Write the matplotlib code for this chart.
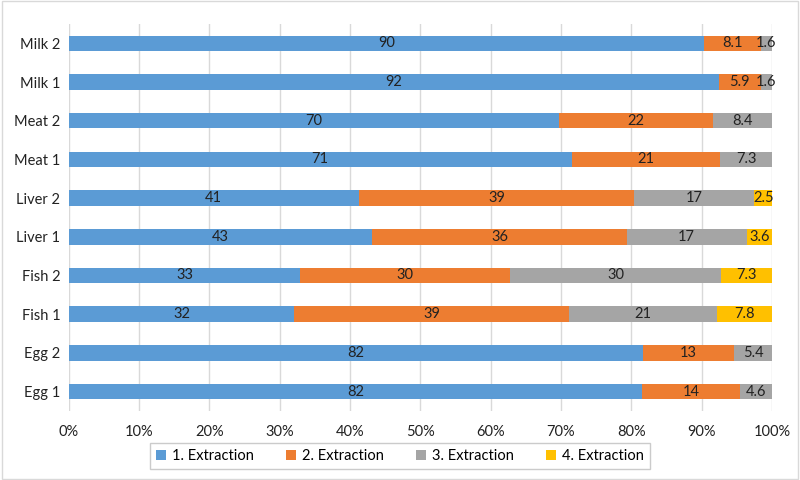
import numpy as np
import matplotlib
matplotlib.use('Agg')
import matplotlib.pyplot as plt
from matplotlib.ticker import PercentFormatter

plt.rcParams['font.family'] = ['Lato', 'DejaVu Sans']

samples = ['Egg 1', 'Egg 2', 'Fish 1', 'Fish 2', 'Liver 1', 'Liver 2',
           'Meat 1', 'Meat 2', 'Milk 1', 'Milk 2']
ext1 = [82, 82, 32, 33, 43, 41, 71, 70, 92, 90]
ext2 = [14, 13, 39, 30, 36, 39, 21, 22, 5.9, 8.1]
ext3 = [4.6, 5.4, 21, 30, 17, 17, 7.3, 8.4, 1.6, 1.6]
ext4 = [0, 0, 7.8, 7.3, 3.6, 2.5, 0, 0, 0, 0]
series = ['1. Extraction', '2. Extraction', '3. Extraction', '4. Extraction']
colors = ['#5B9BD5', '#ED7D31', '#A5A5A5', '#FFC000']

data = np.array([ext1, ext2, ext3, ext4], dtype=float)
shares = data / data.sum(axis=0) * 100

fig = plt.figure(figsize=(8, 4.8), dpi=100)
ax = fig.add_axes([0.086, 0.144, 0.879, 0.806])

y = np.arange(len(samples))
left = np.zeros(len(samples))
for i in range(4):
    ax.barh(y, shares[i], left=left, height=0.4, color=colors[i],
            label=series[i], zorder=2)
    for j in range(len(samples)):
        if data[i, j] > 0:
            ax.text(left[j] + shares[i, j] / 2, y[j], f'{data[i, j]:g}',
                    ha='center', va='center', fontsize=10.5, color='#222222',
                    zorder=3)
    left += shares[i]

ax.set_xlim(0, 100)
ax.set_ylim(-0.5, len(samples) - 0.5)
ax.set_yticks(y)
ax.set_yticklabels(samples, fontsize=10.5, color='#222222')
ax.set_xticks(np.arange(0, 101, 10))
ax.xaxis.set_major_formatter(PercentFormatter(decimals=0))
ax.tick_params(axis='x', labelsize=10.5, colors='#222222', length=0, pad=10)
ax.tick_params(axis='y', length=0, pad=6)
ax.grid(axis='x', color='#D9D9D9', linewidth=1, zorder=0)
for s in ax.spines.values():
    s.set_visible(False)

leg = fig.legend(loc='lower center', bbox_to_anchor=(0.5, 0.008), ncol=4,
                 frameon=True, fancybox=False, edgecolor='#BFBFBF',
                 fontsize=10.5, handlelength=0.7, handleheight=0.7,
                 handletextpad=0.4, columnspacing=2.2, borderpad=0.4)
leg.get_frame().set_linewidth(1)

fig.patches.append(plt.Rectangle((0.002, 0.002), 0.996, 0.996,
                                 transform=fig.transFigure, fill=False,
                                 edgecolor='#D9D9D9', linewidth=1))

fig.savefig('out.png', dpi=100)
